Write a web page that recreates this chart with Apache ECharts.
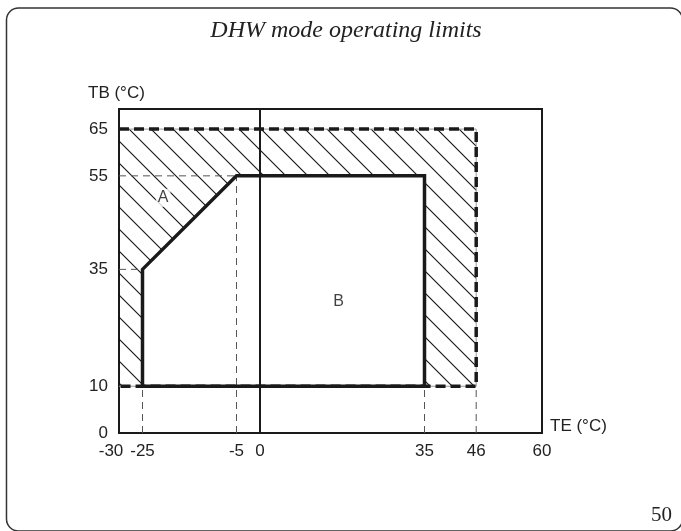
<!DOCTYPE html>
<html>
<head>
<meta charset="utf-8">
<script src="https://cdn.jsdelivr.net/npm/echarts@6/dist/echarts.min.js"></script>
<style>
  html, body { margin: 0; padding: 0; background: #ffffff; }
  #chart { width: 681px; height: 531px; }
</style>
</head>
<body>
<div id="chart"></div>
<script>
// ---- data ----
const titleText = 'DHW mode operating limits';
const xName = 'TE (°C)';
const yName = 'TB (°C)';
const pageNumber = '50';
const xMin = -30, xMax = 60;
const yMin = 0, yMax = 69.3;
const xTicks = [-30, -25, -5, 0, 35, 46, 60];
const yTicks = [0, 10, 35, 55, 65];
// dashed outer limit (hatched area A boundary)
const outerLimit = [[-30, 65], [46, 65], [46, 10], [-30, 10]];
const outerLimitFill = [[-30, 10], [-30, 65], [46, 65], [46, 10]];
// solid operating zone B
const zoneB = [[-25, 10], [-25, 35], [-5, 55], [35, 55], [35, 10], [-25, 10]];
// thin dashed reference lines [x1, y1, x2, y2]
const guides = [
  [-30, 55, -5, 55],
  [-5, 0, -5, 55],
  [-30, 35, -25, 35],
  [-25, 0, -25, 10],
  [35, 0, 35, 10],
  [46, 0, 46, 10]
];
// solid vertical line at TE = 0
const zeroLine = [[0, yMin], [0, yMax]];
const zoneLabels = [
  { name: 'A', value: [-20.6, 50.3] },
  { name: 'B', value: [16.7, 28.1] }
];

// ---- hatch pattern ----
const s = 22;
const tile = document.createElement('canvas');
tile.width = s; tile.height = s;
const tc = tile.getContext('2d');
tc.strokeStyle = '#111';
tc.lineWidth = 1.1;
for (let k = -1; k <= 1; k++) {
  tc.beginPath();
  tc.moveTo(-2, -2 + k * s);
  tc.lineTo(s + 2, s + 2 + k * s);
  tc.stroke();
}

const sansFont = "'Liberation Sans', Arial, sans-serif";
const labelSize = 17;
const nameSize = 17;

const chart = echarts.init(document.getElementById('chart'), null, { renderer: 'canvas' });

chart.setOption({
  animation: false,
  backgroundColor: '#ffffff',
  title: {
    text: titleText,
    left: 341,
    textAlign: 'center',
    top: 14,
    textStyle: {
      fontFamily: "'Liberation Serif', 'DejaVu Serif', serif",
      fontStyle: 'italic',
      fontWeight: 'normal',
      fontSize: 24,
      color: '#222'
    }
  },
  graphic: [
    {
      type: 'rect',
      shape: { x: 6.5, y: 8, width: 676, height: 523, r: 12 },
      style: { fill: 'none', stroke: '#333', lineWidth: 1.5 },
      silent: true
    },
    {
      type: 'text',
      right: 9,
      top: 505,
      style: {
        text: pageNumber,
        font: "21px 'Liberation Serif', serif",
        fill: '#222'
      }
    },
    {
      type: 'text',
      left: 88,
      top: 85,
      style: { text: yName, font: nameSize + "px 'Liberation Sans', Arial, sans-serif", fill: '#222' }
    },
    {
      type: 'text',
      left: 550,
      top: 418,
      style: { text: xName, font: nameSize + "px 'Liberation Sans', Arial, sans-serif", fill: '#222' }
    }
  ],
  grid: {
    left: 119, top: 109, right: 139, bottom: 98,
    show: true,
    borderColor: '#1a1a1a',
    borderWidth: 2,
    containLabel: false,
    outerBoundsMode: 'none'
  },
  xAxis: {
    type: 'value',
    min: xMin, max: xMax,
    axisLine: { show: false },
    axisTick: { show: false },
    splitLine: { show: false },
    axisLabel: {
      customValues: xTicks,
      margin: 10,
      color: '#222',
      fontFamily: sansFont,
      fontSize: labelSize,
      formatter: function (v) { return v === -30 ? '{s|' + v + '}' : String(v); },
      rich: { s: { fontFamily: sansFont, fontSize: labelSize, color: '#222', padding: [0, 16, 0, 0] } }
    }
  },
  yAxis: {
    type: 'value',
    min: yMin, max: yMax,
    axisLine: { show: false },
    axisTick: { show: false },
    splitLine: { show: false },
    axisLabel: {
      customValues: yTicks,
      margin: 11,
      color: '#222',
      fontFamily: sansFont,
      fontSize: labelSize
    }
  },
  series: [
    {
      type: 'custom',
      name: 'hatch',
      z: 1,
      silent: true,
      data: [0],
      renderItem: function (params, api) {
        const outer = outerLimitFill.map(p => api.coord(p));
        const inner = zoneB.map(p => api.coord(p));
        return {
          type: 'group',
          children: [
            { type: 'polygon', shape: { points: outer }, style: { fill: { image: tile, repeat: 'repeat' }, stroke: null } },
            { type: 'polygon', shape: { points: inner }, style: { fill: '#ffffff', stroke: null } }
          ]
        };
      }
    },
    {
      type: 'custom',
      name: 'guides',
      z: 2,
      silent: true,
      data: guides,
      renderItem: function (params, api) {
        const a = api.coord([api.value(0), api.value(1)]);
        const b = api.coord([api.value(2), api.value(3)]);
        return {
          type: 'line',
          shape: { x1: a[0], y1: a[1], x2: b[0], y2: b[1] },
          style: { stroke: '#555', lineWidth: 1, lineDash: [7, 5] }
        };
      }
    },
    {
      type: 'line',
      name: 'zero',
      z: 3,
      data: zeroLine,
      symbol: 'none',
      silent: true,
      lineStyle: { color: '#1a1a1a', width: 2 }
    },
    {
      type: 'line',
      name: 'limitThin',
      z: 3,
      data: outerLimit,
      symbol: 'none',
      silent: true,
      lineStyle: { color: '#999', width: 1 }
    },
    {
      type: 'line',
      name: 'limit',
      z: 4,
      data: outerLimit,
      symbol: 'none',
      silent: true,
      lineStyle: { color: '#1a1a1a', width: 3.5, type: [10, 5] }
    },
    {
      type: 'line',
      name: 'zoneB',
      z: 5,
      data: zoneB,
      symbol: 'none',
      silent: true,
      lineStyle: { color: '#1a1a1a', width: 3.5, join: 'miter' }
    },
    {
      type: 'scatter',
      name: 'labels',
      z: 6,
      symbolSize: 0,
      silent: true,
      data: zoneLabels,
      label: {
        show: true,
        position: 'inside',
        formatter: '{b}',
        fontFamily: sansFont,
        fontSize: 16,
        color: '#111',
        backgroundColor: '#ffffff',
        padding: [1, 2]
      }
    }
  ]
});
</script>
</body>
</html>
